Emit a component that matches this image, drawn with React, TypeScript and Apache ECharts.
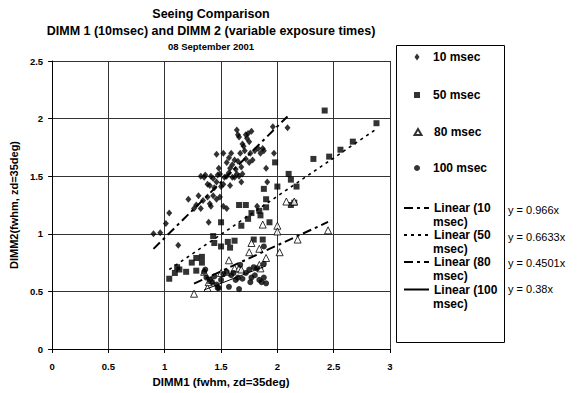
import React, { useEffect, useRef } from "react";
import * as echarts from "echarts";

const titleLines = ["Seeing Comparison", "DIMM 1 (10msec) and DIMM 2 (variable exposure times)", "08 September 2001"];
const xAxisName = "DIMM1 (fwhm, zd=35deg)";
const yAxisName = "DIMM2(fwhm, zd=35deg)";

const seriesNames = ["10 msec", "50 msec", "80 msec", "100 msec"];

const d10: number[][] = [
  [0.90, 1.00], [0.96, 1.01], [1.01, 1.09], [1.04, 1.18], [1.12, 0.90], [1.21, 1.30], [1.26, 1.22], [1.28, 1.25],
  [1.30, 1.33], [1.32, 1.22], [1.34, 1.29], [1.38, 1.32], [1.39, 1.10], [1.40, 1.26], [1.41, 1.24], [1.43, 1.33],
  [1.46, 1.30], [1.49, 1.32], [1.52, 1.24], [1.55, 1.22], [1.32, 1.50], [1.35, 1.49], [1.36, 1.51], [1.38, 1.43],
  [1.40, 1.42], [1.41, 1.50], [1.43, 1.48], [1.44, 1.40], [1.46, 1.45], [1.47, 1.51], [1.49, 1.52], [1.50, 1.41],
  [1.52, 1.43], [1.53, 1.49], [1.55, 1.50], [1.57, 1.53], [1.58, 1.42], [1.60, 1.49], [1.62, 1.49], [1.64, 1.52],
  [1.66, 1.50], [1.68, 1.45], [1.69, 1.52], [1.46, 1.69], [1.52, 1.70], [1.55, 1.62], [1.57, 1.66], [1.59, 1.70],
  [1.60, 1.60], [1.62, 1.64], [1.65, 1.63], [1.66, 1.84], [1.64, 1.90], [1.67, 1.70], [1.68, 1.58], [1.70, 1.76],
  [1.71, 1.72], [1.72, 1.65], [1.73, 1.83], [1.74, 1.87], [1.75, 1.80], [1.76, 1.70], [1.77, 1.89], [1.78, 1.64],
  [1.80, 1.72], [1.82, 1.24], [1.83, 1.74], [1.85, 1.70], [1.87, 1.74], [1.88, 1.72], [1.90, 1.57], [1.91, 1.45],
  [1.96, 1.93], [1.97, 1.70], [2.09, 1.92], [1.65, 1.86], [1.69, 1.78], [1.72, 1.86], [1.75, 1.62], [1.63, 1.56],
  [1.58, 1.57], [1.48, 1.57],
];

const d50: number[][] = [
  [1.04, 0.61], [1.09, 0.66], [1.11, 0.71], [1.13, 0.69], [1.19, 0.67], [1.24, 0.75], [1.28, 0.79], [1.28, 0.68],
  [1.33, 0.80], [1.33, 0.75], [1.43, 0.98], [1.44, 0.92], [1.50, 0.89], [1.50, 1.10], [1.56, 0.93], [1.58, 0.88],
  [1.62, 0.94], [1.66, 1.25], [1.72, 1.25], [1.68, 1.07], [1.74, 1.13], [1.77, 1.18], [1.79, 0.95], [1.84, 1.20],
  [1.85, 1.16], [1.87, 0.95], [1.88, 1.39], [1.90, 1.30], [1.90, 1.23], [1.93, 1.10], [1.98, 1.62], [2.00, 1.41],
  [2.10, 1.52], [2.12, 1.47], [2.12, 1.25], [2.15, 1.27], [2.17, 1.41], [2.32, 1.65], [2.42, 2.07], [2.46, 1.67],
  [2.56, 1.73], [2.67, 1.80], [2.88, 1.96],
];

const d80: number[][] = [
  [1.26, 0.48], [1.35, 0.67], [1.38, 0.53], [1.39, 0.58], [1.41, 0.60], [1.50, 0.66], [1.55, 0.67], [1.57, 0.77],
  [1.62, 0.70], [1.66, 0.70], [1.68, 0.69], [1.75, 0.84], [1.77, 0.92], [1.84, 0.87], [1.84, 0.73], [1.85, 0.70],
  [1.90, 0.79], [1.87, 1.08], [2.00, 1.07], [2.00, 1.02], [2.02, 0.84], [2.08, 1.28], [2.15, 1.28], [2.18, 0.95],
  [2.45, 1.03],
];

const d100: number[][] = [
  [1.35, 0.67], [1.36, 0.69], [1.37, 0.62], [1.40, 0.60], [1.42, 0.58], [1.44, 0.63], [1.46, 0.56], [1.47, 0.53],
  [1.48, 0.53], [1.50, 0.60], [1.52, 0.65], [1.55, 0.67], [1.57, 0.54], [1.59, 0.64], [1.61, 0.66], [1.63, 0.60],
  [1.65, 0.62], [1.66, 0.52], [1.67, 0.73], [1.69, 0.61], [1.72, 0.66], [1.75, 0.69], [1.76, 0.58], [1.77, 0.62],
  [1.79, 0.71], [1.80, 0.64], [1.82, 0.70], [1.84, 0.60], [1.86, 0.58], [1.88, 0.62], [1.88, 0.74], [1.90, 0.57],
  [1.88, 0.89],
];

const trendNames = ["Linear (10 msec)", "Linear (50 msec)", "Linear (80 msec)", "Linear (100 msec)"];
const trendSlopes = [0.966, 0.6633, 0.4501, 0.38];
const trendRanges = [[0.9, 2.09], [1.04, 2.88], [1.26, 2.45], [1.35, 1.9]];
const equations = ["y = 0.966x", "y = 0.6633x", "y = 0.4501x", "y = 0.38x"];

const FONT = "'Liberation Sans', Arial, sans-serif";

export default function App() {
  const ref = useRef<HTMLDivElement>(null);
  useEffect(() => {
    if (!ref.current) return;
    const chart = echarts.init(ref.current, null, { renderer: "svg" });

    const scatterData = [d10, d50, d80, d100];
    const symbols = ["diamond", "rect", "triangle", "circle"];
    const sizes: any[] = [[6, 7], 6, 7, 6];
    const legendIconSizes = [[5, 7], [6, 6], [7, 6], [6, 6]];

    const scatterSeries = scatterData.map((d, i) => ({
      type: "scatter",
      name: seriesNames[i],
      data: d,
      symbol: symbols[i],
      symbolSize: sizes[i],
      itemStyle: i === 2
        ? { color: "#fff", borderColor: "#000", borderWidth: 1 }
        : { color: "#000" },
      z: 3,
    }));

    const dashTypes: any[] = [[9, 4, 3, 4], [3, 4], [9, 4, 3, 4], "solid"];
    const widths = [2, 1.6, 2, 1];
    const lineSeries = trendSlopes.map((k, i) => ({
      type: "line",
      name: trendNames[i],
      data: trendRanges[i].map((x) => [x, k * x]),
      symbol: "none",
      lineStyle: { color: "#000", width: widths[i], type: dashTypes[i] },
      itemStyle: { color: "#000" },
      z: 4,
    }));

    const legendText = { fontFamily: FONT, fontWeight: "bold", fontSize: 12, color: "#000", lineHeight: 14 };
    const scatterCenters = [57, 95, 132, 168];
    const lineCenters = [208, 235, 262, 289.5];
    const eqCenters = [210, 236.7, 262.7, 289.3];
    const legends: any[] = [];
    seriesNames.forEach((n, i) => {
      const [w, h] = legendIconSizes[i];
      legends.push({
        data: [n], left: 417 - w / 2, top: scatterCenters[i] - 7, padding: 0, itemWidth: w, itemHeight: h,
        itemGap: 0,
        selectedMode: false,
        textStyle: { ...legendText, padding: [0, 0, 0, 433 - (417 + w / 2) - 5] },
      });
    });
    trendNames.forEach((n, i) => {
      legends.push({
        data: [n], left: 403, top: lineCenters[i] - 7, padding: 0, itemWidth: 25, itemHeight: 7,
        selectedMode: false, textStyle: legendText,
        itemStyle: { opacity: 0 },
        formatter: (name: string) => name.replace(/ msec\)$/, ""),
      });
    });

    const graphics: any[] = [
      { type: "rect", shape: { x: 396.5, y: 45.5, width: 108, height: 297 }, style: { fill: "none", stroke: "#000", lineWidth: 1 }, z: 0 },
    ];
    lineCenters.forEach((c, i) => {
      graphics.push({
        type: "text", x: 433, y: c + 14,
        style: { text: "msec)", font: `bold 12px ${FONT}`, fill: "#000", verticalAlign: "middle", textAlign: "left" },
      });
      graphics.push({
        type: "text", x: 508, y: eqCenters[i],
        style: { text: equations[i], font: `11px ${FONT}`, fill: "#000", verticalAlign: "middle", textAlign: "left" },
      });
    });

    const titleCenters = [15, 32, 47];
    const titleSizes = [12.5, 12.5, 9.5];

    chart.setOption({
      animation: false,
      backgroundColor: "#fff",
      title: titleLines.map((t, i) => ({
        text: t, left: 211, top: titleCenters[i] - titleSizes[i] * 0.6, textAlign: "center", padding: 0,
        textStyle: { fontFamily: FONT, fontWeight: "bold", fontSize: titleSizes[i], color: "#000" },
      })),
      legend: legends,
      grid: { left: 50, right: 192, top: 61, bottom: 44 },
      xAxis: {
        type: "value", min: 0, max: 3, interval: 0.5,
        name: xAxisName, nameLocation: "middle", nameGap: 26,
        nameTextStyle: { fontFamily: FONT, fontWeight: "bold", fontSize: 11.5, color: "#000" },
        axisLine: { show: true, lineStyle: { color: "#000", width: 1 } },
        axisTick: { show: true, length: 4, lineStyle: { color: "#000" } },
        axisLabel: { margin: 12, fontFamily: FONT, fontWeight: "bold", fontSize: 9.5, color: "#000" },
        splitLine: { show: true, lineStyle: { color: "#333", width: 1 } },
      },
      yAxis: {
        type: "value", min: 0, max: 2.5, interval: 0.5,
        name: yAxisName, nameLocation: "middle", nameGap: 33,
        nameTextStyle: { fontFamily: FONT, fontWeight: "bold", fontSize: 11, color: "#000" },
        axisLine: { show: true, lineStyle: { color: "#000", width: 1 } },
        axisTick: { show: true, length: 4, lineStyle: { color: "#000" } },
        axisLabel: { margin: 9, fontFamily: FONT, fontWeight: "bold", fontSize: 9.5, color: "#000" },
        splitLine: { show: true, lineStyle: { color: "#333", width: 1 } },
      },
      series: [...scatterSeries, ...lineSeries],
      graphic: graphics,
    });
    return () => chart.dispose();
  }, []);
  return <div ref={ref} style={{ position: "absolute", left: 0, top: 0, width: 582, height: 393 }} />;
}
